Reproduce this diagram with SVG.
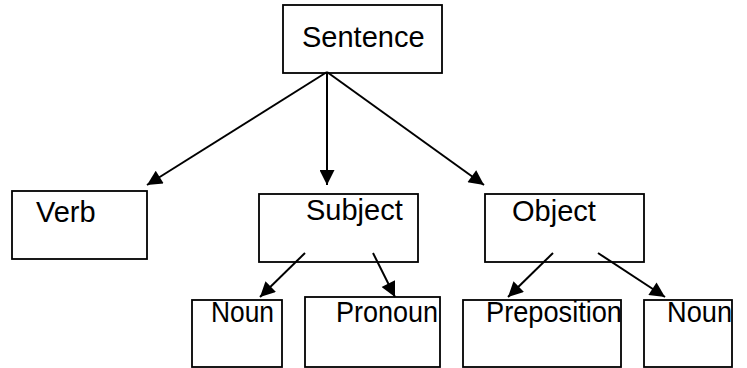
<svg xmlns="http://www.w3.org/2000/svg" width="747" height="368" viewBox="0 0 747 368">
<style>
.box{fill:#fff;stroke:#000;stroke-width:1.8}
.lbl{font-family:"Liberation Sans",Arial,sans-serif;font-size:29px;fill:#000}
.con{stroke:#000;stroke-width:2;fill:none}
</style>
<defs>
<marker id="ah" viewBox="0 0 10 10" refX="10" refY="5" markerWidth="9" markerHeight="7.5" markerUnits="strokeWidth" orient="auto">
<path d="M0,0 L10,5 L0,10 z" fill="#000"/>
</marker>
</defs>
<rect width="747" height="368" fill="#fff"/>
<g id="sentence"><rect class="box" x="283" y="5" width="159" height="68"/><text class="lbl" x="302" y="47">Sentence</text></g>
<g id="verb"><rect class="box" x="12" y="191" width="135" height="68"/><text class="lbl" x="36" y="222">Verb</text></g>
<g id="subject"><rect class="box" x="259" y="194" width="159" height="68"/><text class="lbl" x="306" y="220">Subject</text></g>
<g id="object"><rect class="box" x="485" y="194" width="159" height="68"/><text class="lbl" x="512" y="221">Object</text></g>
<g id="noun1"><rect class="box" x="192" y="300" width="90" height="67"/><text class="lbl" x="211" y="322" textLength="63" lengthAdjust="spacingAndGlyphs">Noun</text></g>
<g id="pronoun"><rect class="box" x="305" y="297" width="135" height="70"/><text class="lbl" x="336" y="322" textLength="102" lengthAdjust="spacingAndGlyphs">Pronoun</text></g>
<g id="preposition"><rect class="box" x="463" y="300" width="158" height="67"/><text class="lbl" x="486" y="322" textLength="136" lengthAdjust="spacingAndGlyphs">Preposition</text></g>
<g id="noun2"><rect class="box" x="644" y="300" width="88" height="67"/><text class="lbl" x="667" y="322" textLength="65" lengthAdjust="spacingAndGlyphs">Noun</text></g>
<g id="connectors">
<line class="con" x1="327" y1="72" x2="147" y2="185" marker-end="url(#ah)"/>
<line class="con" x1="327" y1="72" x2="327" y2="185" marker-end="url(#ah)"/>
<line class="con" x1="327" y1="72" x2="484" y2="185" marker-end="url(#ah)"/>
<line class="con" x1="305" y1="253" x2="260" y2="297" marker-end="url(#ah)"/>
<line class="con" x1="373" y1="253" x2="395" y2="297" marker-end="url(#ah)"/>
<line class="con" x1="553" y1="253" x2="508" y2="297" marker-end="url(#ah)"/>
<line class="con" x1="598" y1="253" x2="665" y2="297" marker-end="url(#ah)"/>
</g>
</svg>
